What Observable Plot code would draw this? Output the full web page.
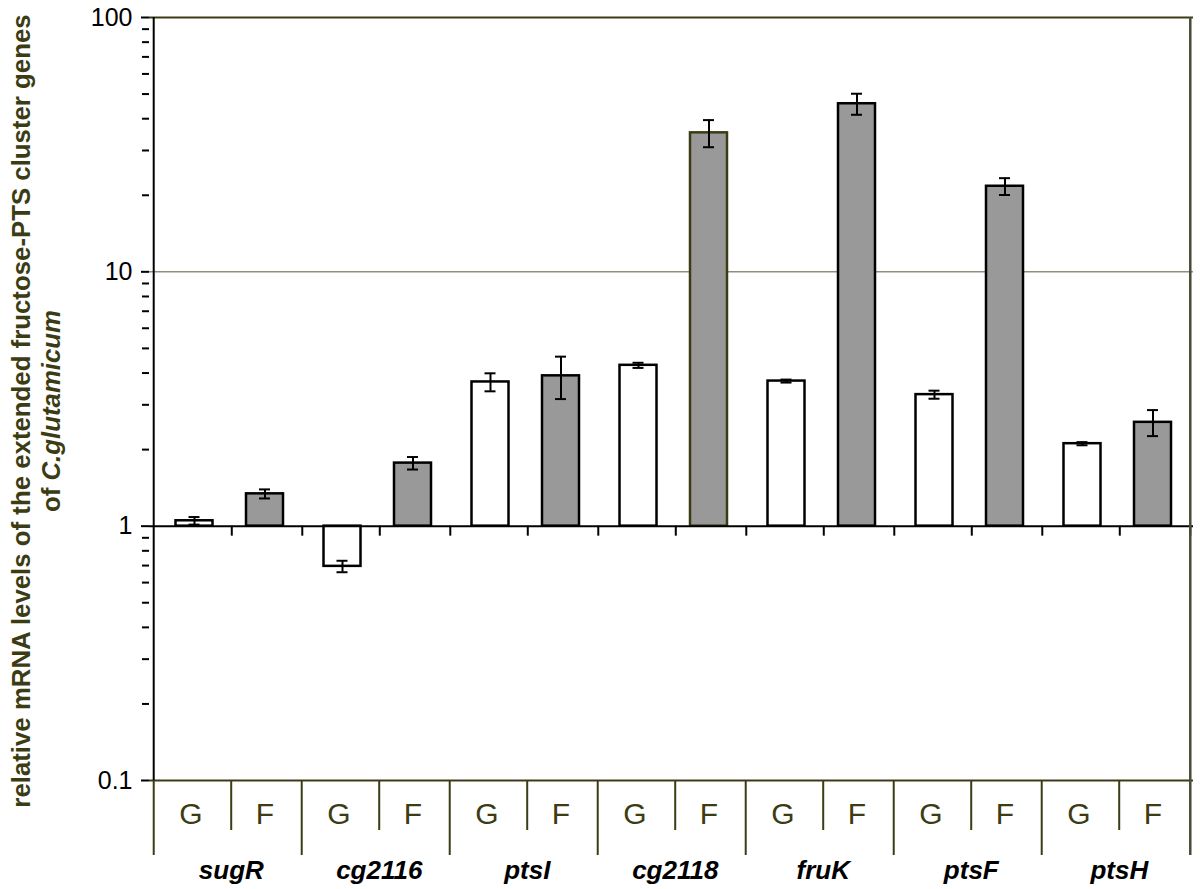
<!DOCTYPE html>
<html><head><meta charset="utf-8">
<script src="https://cdn.jsdelivr.net/npm/d3@7"></script>
<script src="https://cdn.jsdelivr.net/npm/@observablehq/plot@0.6"></script>
<style>
body{margin:0;background:#fff}
svg{display:block}
</style>
</head><body><div id="chart"></div>
<script>
const genes = ["sugR", "cg2116", "ptsI", "cg2118", "fruK", "ptsF", "ptsH"];
const conditions = ["G", "F"];
const valuesG = [1.05, 0.695, 3.69, 4.29, 3.72, 3.29, 2.11];
const errorsG = [0.036, 0.036, 0.30, 0.10, 0.05, 0.12, 0.03];
const valuesF = [1.34, 1.77, 3.90, 35.2, 45.8, 21.7, 2.56];
const errorsF = [0.055, 0.10, 0.74, 4.3, 4.35, 1.65, 0.30];
const majorTicks = [0.1, 1, 10, 100];
const minorTicks = [0.2, 0.3, 0.4, 0.5, 0.6, 0.7, 0.8, 0.9, 2, 3, 4, 5, 6, 7, 8, 9, 20, 30, 40, 50, 60, 70, 80, 90];

const rows = [];
genes.forEach((g, i) => {
  rows.push({gene: g, cond: "G", key: g + "|G", value: valuesG[i], err: errorsG[i]});
  rows.push({gene: g, cond: "F", key: g + "|F", value: valuesF[i], err: errorsF[i]});
});
const rowsG = rows.filter(d => d.cond === "G");
const rowsF = rows.filter(d => d.cond === "F");

const W = 1200, H = 889, ML = 149, MR = 7, MT = 17, MB = 109;
const step = (W - ML - MR) / rows.length;
const gShift = 3.5;
const olive = "#3c3c14";
const font = "Liberation Sans, Arial, sans-serif";

const errMarks = (data, dx) => [
  Plot.ruleX(data, {x: "key", y1: d => d.value - d.err, y2: d => d.value + d.err, stroke: "#000", strokeWidth: 2, dx}),
  Plot.tickY(data, {x: "key", y: d => d.value + d.err, stroke: "#000", strokeWidth: 2, insetLeft: 13, insetRight: 13, dx}),
  Plot.tickY(data, {x: "key", y: d => d.value - d.err, stroke: "#000", strokeWidth: 2, insetLeft: 13, insetRight: 13, dx})
];

const chart = Plot.plot({
  width: W, height: H,
  marginLeft: ML, marginRight: MR, marginTop: MT, marginBottom: MB,
  style: {fontFamily: font, background: "#fff", color: "#000", overflow: "visible"},
  x: {domain: rows.map(d => d.key), paddingInner: 0.5, paddingOuter: 0.25, axis: null},
  y: {type: "log", domain: [0.1, 100], axis: null, label: null},
  marks: [
    Plot.ruleY([10], {stroke: olive, strokeWidth: 1, strokeOpacity: 0.85}),
    Plot.ruleY([100], {stroke: olive, strokeWidth: 2}),
    Plot.ruleY([0.1], {stroke: olive, strokeWidth: 2}),
    Plot.barY(rowsG, {x: "key", y1: () => 1, y2: "value", fill: "#fff", stroke: "#000", strokeWidth: 2.5, dx: gShift}),
    Plot.barY(rowsF, {x: "key", y1: () => 1, y2: "value", fill: "#999", stroke: d => d.gene === "cg2118" ? olive : "#000", strokeWidth: 2.5}),
    Plot.ruleY([1], {stroke: "#000", strokeWidth: 2}),
    // small ticks below the baseline at category boundaries
    Plot.ruleX(rowsG, {x: "key", y1: () => 1, y2: () => 1, insetBottom: -10, stroke: "#000", strokeWidth: 2, dx: step / 2 + gShift}),
    Plot.ruleX(rowsF, {x: "key", y1: () => 1, y2: () => 1, insetBottom: -10, stroke: "#000", strokeWidth: 2, dx: step / 2}),
    ...errMarks(rowsG, gShift),
    ...errMarks(rowsF, 0),
    // y axis line
    Plot.ruleX([rows[0]], {x: "key", y1: () => 0.1, y2: () => 100, stroke: "#000", strokeWidth: 2, dx: -step / 2}),
    // right border
    Plot.ruleX([rows[rows.length - 1]], {x: "key", insetBottom: -75, stroke: "#4a4a3a", strokeWidth: 2.5, dx: step / 2}),
    // lower table: group boundaries
    Plot.ruleX(rowsG, {x: "key", insetTop: H - MT - MB, insetBottom: -75, stroke: olive, strokeWidth: 2, dx: -step / 2}),
    // lower table: G/F dividers
    Plot.ruleX(rowsF, {x: "key", insetTop: H - MT - MB, insetBottom: -50, stroke: olive, strokeWidth: 2, dx: -step / 2 + gShift}),
    Plot.text(rows, {x: "key", text: "cond", frameAnchor: "bottom", lineAnchor: "bottom", dy: 43, fontSize: 30, fill: olive}),
    Plot.text(rowsG, {x: "key", text: "gene", frameAnchor: "bottom", lineAnchor: "bottom", dy: 98, dx: step / 2 + 3, fontSize: 26, fontWeight: "bold", fontStyle: "italic", fill: "#000"}),
    Plot.axisY({ticks: minorTicks, tickSize: 7, tickFormat: () => "", label: null, strokeWidth: 2}),
    Plot.axisY({ticks: majorTicks, tickSize: 8, tickPadding: 9, tickFormat: d => String(d), label: null, fontSize: 25, strokeWidth: 2})
  ]
});

const svg = d3.select(chart);
const title = svg.append("text")
  .attr("transform", `translate(30,411) rotate(-90)`)
  .attr("text-anchor", "middle")
  .attr("font-family", font)
  .attr("font-weight", "bold")
  .attr("font-size", 25.8)
  .attr("fill", olive);
title.append("tspan").attr("x", 0).attr("y", 0).text("relative mRNA levels of the extended fructose-PTS cluster genes");
title.append("tspan").attr("x", 0).attr("y", 30).text("of ")
  .append("tspan").attr("font-style", "italic").text("C.glutamicum");

document.getElementById("chart").appendChild(chart);
</script>
</body></html>
